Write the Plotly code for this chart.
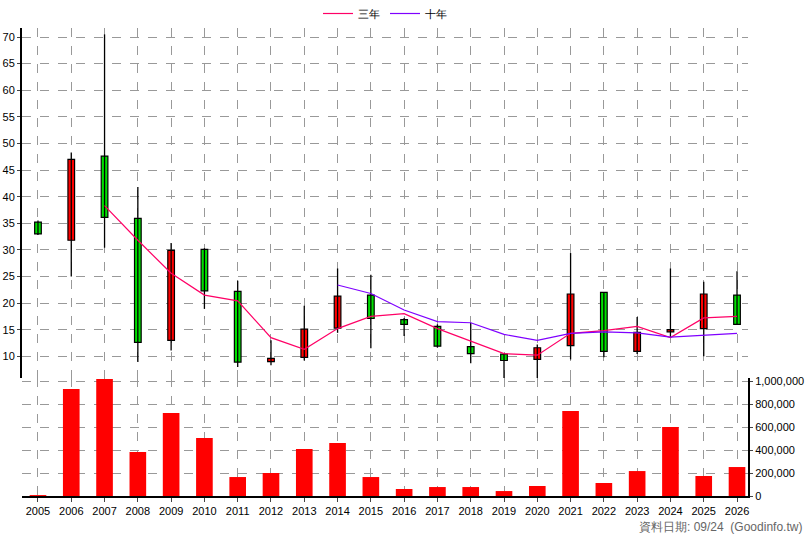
import plotly.graph_objects as go

years = list(range(2005, 2027))
opens  = [35.2, 31.8, 47.6, 35.9, 13.0, 30.1, 22.2, 9.0, 9.8, 15.3, 21.5, 16.9, 15.6, 11.8, 10.4, 9.4, 12.0, 22.0, 10.9, 14.6, 15.2, 21.5]
closes = [33.0, 47.0, 36.1, 12.6, 29.9, 22.3, 8.9, 9.6, 15.1, 21.3, 17.1, 16.0, 11.9, 10.5, 9.2, 11.6, 21.7, 10.9, 14.5, 15.0, 21.7, 16.0]
highs  = [35.5, 48.3, 70.5, 41.8, 31.3, 30.3, 24.2, 13.0, 19.5, 26.5, 25.3, 17.2, 16.0, 16.3, 10.6, 12.2, 29.4, 22.0, 17.4, 26.5, 24.0, 26.0]
lows   = [32.8, 25.0, 30.4, 8.9, 11.1, 18.9, 8.0, 8.3, 9.2, 14.4, 11.5, 13.8, 11.6, 8.7, 5.8, 5.8, 9.4, 9.8, 10.4, 13.6, 10.0, 15.9]
ma3 = [None, None, 38.3, 31.8, 25.6, 21.5, 20.4, 13.5, 11.3, 15.2, 17.5, 18.0, 15.2, 12.9, 10.5, 10.2, 14.3, 14.8, 15.6, 13.5, 17.2, 17.5]
ma10 = [None]*9 + [23.4, 21.8, 18.7, 16.5, 16.3, 14.1, 13.0, 14.3, 14.6, 14.4, 13.6, 13.9, 14.3]
volume = [8000, 930000, 1017000, 383000, 722000, 504000, 165000, 200000, 409000, 461000, 165000, 61000, 78000, 78000, 43000, 87000, 739000, 113000, 217000, 600000, 174000, 252000]

fig = go.Figure()

wx, wy = [], []
for x, h, l in zip(years, highs, lows):
    wx += [x, x, None]
    wy += [l, h, None]
fig.add_trace(go.Scatter(x=wx, y=wy, mode="lines", line=dict(color="black", width=1.3),
                         showlegend=False, hoverinfo="skip", yaxis="y"))
base = [min(o, c) for o, c in zip(opens, closes)]
height = [max(abs(c - o), 0.3) for o, c in zip(opens, closes)]
colors = ["#ff0000" if c > o else "#00e000" for o, c in zip(opens, closes)]
fig.add_trace(go.Bar(x=years, y=height, base=base, width=0.2, marker=dict(color=colors, line=dict(color="black", width=1.2)),
                     showlegend=False, yaxis="y"))

fig.add_trace(go.Scatter(x=years, y=ma3, mode="lines", name="三年", line=dict(color="#ff0066", width=1.2), yaxis="y"))
fig.add_trace(go.Scatter(x=years, y=ma10, mode="lines", name="十年", line=dict(color="#7f00ff", width=1.2), yaxis="y"))

fig.add_trace(go.Bar(x=years, y=volume, width=0.5, marker=dict(color="#ff0000", line=dict(width=0)),
                     showlegend=False, yaxis="y2"))

grid = dict(showgrid=True, gridcolor="#999999", griddash="dash", gridwidth=1)
fig.update_layout(
    width=808, height=540, paper_bgcolor="white", plot_bgcolor="white",
    margin=dict(l=22, r=60, t=28, b=44, autoexpand=False),
    font=dict(family="Liberation Sans, Arial", size=11, color="black"),
    barmode="overlay",
    showlegend=True,
    legend=dict(orientation="h", x=0.5, xanchor="center", y=1.0, yanchor="bottom", font=dict(size=11)),
    xaxis=dict(range=[2004.52, 2026.33], tickmode="array", tickvals=years, ticktext=[str(y) for y in years],
               ticks="outside", ticklen=4, showline=True, linecolor="black", linewidth=2, automargin=False,
               anchor="y2", **grid, zeroline=False),
    yaxis=dict(domain=[0.252, 1], range=[5.9, 71.7], dtick=5, tick0=0, side="left", ticks="outside", ticklen=3,
               showline=True, linecolor="black", linewidth=2, zeroline=False, automargin=False, **grid),
    yaxis2=dict(domain=[0, 0.252], range=[0, 1026000], dtick=200000, side="right", ticks="outside", ticklen=3,
                tickformat=",d", showline=True, linecolor="black", linewidth=2, zeroline=False, automargin=False, **grid),
    annotations=[dict(text="資料日期: 09/24  (Goodinfo.tw)", xref="paper", yref="paper", x=1.077, y=-0.047,
                      xanchor="right", yanchor="top", showarrow=False, font=dict(size=12, color="#666666"))],
)
fig.write_html("out.html", config={"displayModeBar": False}, post_script="document.body.style.margin='0';")
